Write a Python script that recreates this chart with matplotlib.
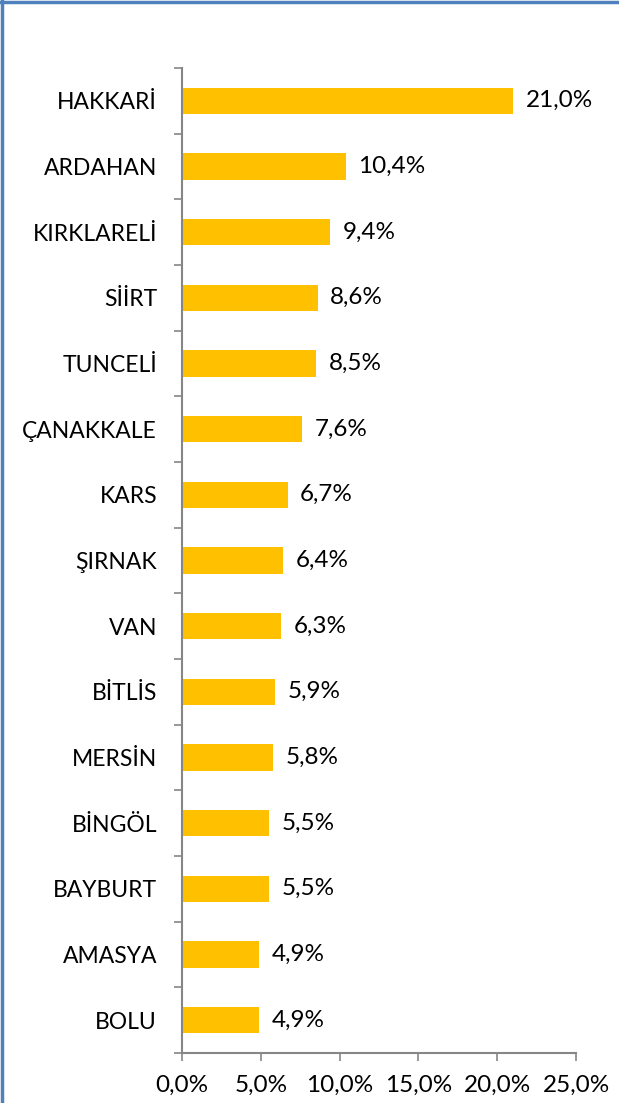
import matplotlib.pyplot as plt
import matplotlib.lines as mlines
import numpy as np

plt.rcParams['font.family'] = ['Lato', 'DejaVu Sans']

provinces = ['HAKKARİ', 'ARDAHAN', 'KIRKLARELİ', 'SİİRT', 'TUNCELİ', 'ÇANAKKALE',
             'KARS', 'ŞIRNAK', 'VAN', 'BİTLİS', 'MERSİN', 'BİNGÖL', 'BAYBURT',
             'AMASYA', 'BOLU']
rates = [21.0, 10.4, 9.4, 8.6, 8.5, 7.6, 6.7, 6.4, 6.3, 5.9, 5.8, 5.5, 5.5, 4.9, 4.9]
xticks = [0, 5, 10, 15, 20, 25]

fig = plt.figure(figsize=(6.19, 11.03), dpi=100)
ax = fig.add_axes([182 / 619, 1 - 1053 / 1103, (576 - 182) / 619, (1053 - 68) / 1103])

fs = 16.5
fs_num = 17.5
y = np.arange(len(provinces))
ax.barh(y, rates, height=0.4, color='#FFC000')
for yi, v in zip(y, rates):
    ax.annotate(f'{v:.1f}%'.replace('.', ','), (v, yi), xytext=(9, 0),
                textcoords='offset points', va='center', ha='left', fontsize=fs_num)

ax.set_ylim(len(provinces) - 0.5, -0.5)
ax.set_xlim(0, 25)
ax.set_yticks(y)
ax.set_yticklabels(provinces, fontsize=fs)
ax.set_yticks(np.arange(len(provinces) + 1) - 0.5, minor=True)
ax.tick_params(axis='y', which='major', length=0, pad=18)
ax.tick_params(axis='y', which='minor', length=6, color='#868686', width=1.2)
ax.set_xticks(xticks)
ax.set_xticklabels([f'{t:.1f}%'.replace('.', ',') for t in xticks], fontsize=fs_num)
ax.tick_params(axis='x', length=6, color='#868686', width=1.2, pad=10)

for s in ['top', 'right']:
    ax.spines[s].set_visible(False)
for s in ['left', 'bottom']:
    ax.spines[s].set_color('#868686')
    ax.spines[s].set_linewidth(1.5)

# blue chart frame visible on top and left edges
fig.add_artist(mlines.Line2D([0, 1], [1 - 1.5 / 1103] * 2, color='#4F81BD', lw=2.5,
                             transform=fig.transFigure))
fig.add_artist(mlines.Line2D([1.5 / 619] * 2, [0, 1], color='#4F81BD', lw=2.5,
                             transform=fig.transFigure))

fig.savefig('out.png', dpi=100)
